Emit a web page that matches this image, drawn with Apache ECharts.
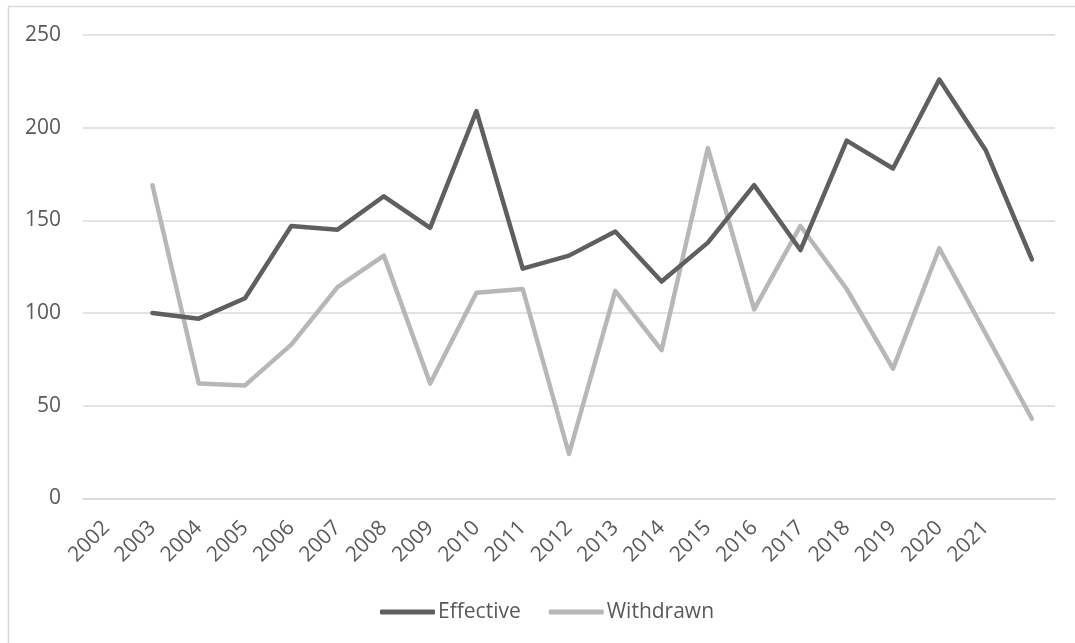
<!DOCTYPE html>
<html>
<head>
<meta charset="utf-8">
<script src="https://cdn.jsdelivr.net/npm/echarts@6/dist/echarts.min.js"></script>
<style>
  html, body { margin: 0; padding: 0; background: #ffffff; }
  #chart { width: 1075px; height: 643px; }
</style>
</head>
<body>
<div id="chart"></div>
<script>
// Year labels along the category axis (last slot carries no label)
const years = ['2002','2003','2004','2005','2006','2007','2008','2009','2010','2011',
               '2012','2013','2014','2015','2016','2017','2018','2019','2020','2021',''];

// Series values; the first slot is empty
const effective = [null, 100, 97, 108, 147, 145, 163, 146, 209, 124, 131,
                   144, 117, 138, 169, 134, 193, 178, 226, 188, 129];
const withdrawn = [null, 169, 62, 61, 83, 114, 131, 62, 111, 113, 24,
                   112, 80, 189, 102, 147, 113, 70, 135, 89, 43];

const yTicks = { min: 0, max: 250, interval: 50 };

const textColor = '#595959';
const gridColor = '#d9d9d9';
const fontFamily = '"Open Sans", "Noto Sans", sans-serif';
const fontSize = 21;

const chart = echarts.init(document.getElementById('chart'), null, { renderer: 'canvas' });

chart.setOption({
  animation: false,
  backgroundColor: '#ffffff',
  graphic: [{
    type: 'rect',
    shape: { x: 8.5, y: 6.5, width: 1100, height: 700 },
    style: { fill: 'none', stroke: '#d9d9d9', lineWidth: 1.5 },
    silent: true
  }],
  grid: { left: 83, right: 20, top: 35, bottom: 144.5, containLabel: false },
  legend: {
    left: 380,
    top: 599,
    padding: 0,
    itemWidth: 55,
    itemHeight: 5,
    itemGap: 28,
    icon: 'roundRect',
    textStyle: { color: textColor, fontSize: fontSize, fontFamily: fontFamily, lineHeight: 26, padding: [0, 0, 0, -2] },
    data: ['Effective', 'Withdrawn']
  },
  xAxis: {
    type: 'category',
    data: years,
    boundaryGap: true,
    axisLine: { show: true, lineStyle: { color: gridColor, width: 1.5 } },
    axisTick: { show: false },
    axisLabel: {
      interval: 0,
      rotate: 45,
      margin: 26,
      color: textColor,
      fontSize: fontSize,
      fontFamily: fontFamily
    }
  },
  yAxis: {
    type: 'value',
    min: yTicks.min,
    max: yTicks.max,
    interval: yTicks.interval,
    axisLine: { show: false },
    axisTick: { show: false },
    splitLine: { lineStyle: { color: gridColor, width: 1.5 } },
    axisLabel: {
      margin: 22,
      color: textColor,
      fontSize: fontSize,
      fontFamily: fontFamily
    }
  },
  series: [
    {
      name: 'Effective',
      type: 'line',
      data: effective,
      showSymbol: false,
      symbol: 'none',
      connectNulls: false,
      lineStyle: { color: '#5f5f5f', width: 4.5, cap: 'round', join: 'round' },
      itemStyle: { color: '#5f5f5f' },
      z: 3
    },
    {
      name: 'Withdrawn',
      type: 'line',
      data: withdrawn,
      showSymbol: false,
      symbol: 'none',
      connectNulls: false,
      lineStyle: { color: '#b7b7b7', width: 4.5, cap: 'round', join: 'round' },
      itemStyle: { color: '#b7b7b7' },
      z: 2
    }
  ]
});
</script>
</body>
</html>
